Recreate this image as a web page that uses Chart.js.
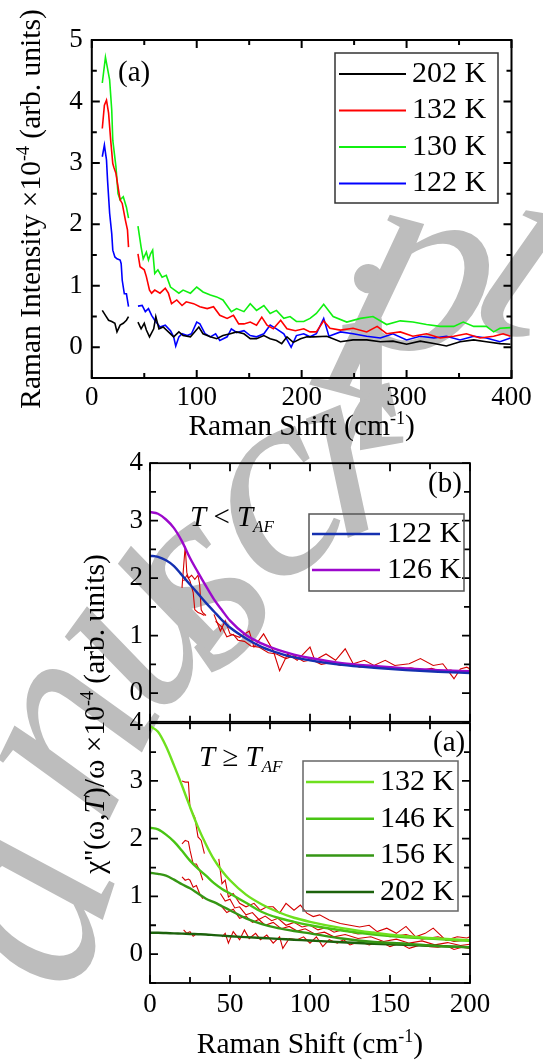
<!DOCTYPE html>
<html>
<head>
<meta charset="utf-8">
<script src="https://cdn.jsdelivr.net/npm/chart.js@4.4.1/dist/chart.umd.min.js"></script>
<style>
  body { margin: 0; background: #fff; }
  #page { position: relative; width: 543px; height: 1063px; overflow: hidden; background: #fff; }
  #page canvas { position: absolute; left: 0; }
</style>
</head>
<body>
<div id="page">
  <canvas id="wm" width="543" height="1063" style="top:0"></canvas>
  <canvas id="top" width="543" height="450" style="top:0"></canvas>
  <canvas id="mid" width="543" height="623" style="top:440px"></canvas>
  <canvas id="bot" width="543" height="363" style="top:700px"></canvas>
</div>
<script>
// ---- panel (a), top: raw spectra, null = gap in the spectrum ----
const x202 = [10,13,16,19,22,24,27,30,33,35,40,44,47,50,52,55,59,61,64,68,73,78,83,87,94,98,102,106,113,119,125,132,138,145,151,157,164,170,176,181,186,192,199,205,211,224,237,249,262,275,287,300,313,326,338,351,364,376,389,399];
const y202 = [0.60,0.52,0.44,0.42,0.39,0.25,0.36,0.39,0.44,0.50,null,0.41,0.30,0.39,0.28,0.17,0.30,0.50,0.30,0.33,0.25,0.17,0.25,0.19,0.17,0.25,0.33,0.22,0.17,0.14,0.19,0.22,0.25,0.22,0.14,0.14,0.19,0.14,0.11,0.06,0.17,0.08,0.14,0.17,0.17,0.18,0.09,0.12,0.12,0.09,0.10,0.05,0.10,0.06,0.02,0.09,0.12,0.09,0.06,0.05];
const x132 = [10,12,14,16,18,20,21,23,25,27,29,32,34,35,40,44,46,50,52,55,57,60,65,70,73,76,81,86,90,97,103,110,116,122,129,135,140,145,151,157,162,167,173,180,186,194,202,208,214,221,227,237,249,262,272,281,294,306,319,332,345,357,370,383,392,399];
const y132 = [3.56,3.94,4.02,3.81,3.37,2.99,2.93,2.83,2.61,2.40,2.34,2.07,1.91,1.63,null,1.52,1.31,1.26,1.15,0.93,0.88,0.93,0.88,0.96,0.88,0.71,0.77,0.68,0.74,0.71,0.66,0.63,0.66,0.52,0.47,0.52,0.38,0.38,0.41,0.36,0.49,0.36,0.30,0.44,0.30,0.27,0.30,0.25,0.25,0.43,0.31,0.28,0.31,0.25,0.34,0.22,0.25,0.18,0.22,0.15,0.18,0.22,0.15,0.18,0.22,0.18];
const x130 = [10,13,17,19,20,23,25,27,30,33,35,40,44,47,49,52,54,56,58,60,63,67,71,75,79,83,87,94,100,106,113,119,125,133,138,145,151,157,164,170,176,183,189,195,202,208,214,221,230,243,256,268,281,294,306,319,332,345,354,364,376,383,389,399];
const y130 = [4.30,4.72,4.35,3.86,3.37,2.94,2.50,2.40,2.45,2.28,2.10,null,1.97,1.63,1.44,1.55,1.42,1.52,1.58,1.20,1.26,1.14,1.17,0.98,0.93,0.88,0.93,0.88,0.98,0.90,0.85,0.82,0.77,0.58,0.63,0.58,0.71,0.60,0.68,0.55,0.60,0.47,0.50,0.42,0.42,0.47,0.55,0.70,0.50,0.41,0.47,0.50,0.37,0.43,0.41,0.37,0.34,0.34,0.41,0.34,0.34,0.25,0.31,0.32];
const x122 = [10,12,14,15,17,19,20,22,24,27,28,29,31,33,35,40,44,48,51,54,57,60,65,70,75,78,80,83,86,91,95,100,103,108,113,118,122,129,133,138,145,151,157,164,170,176,183,190,195,202,208,214,221,226,237,249,262,275,287,300,313,326,338,351,364,376,389,399];
const y122 = [3.10,3.29,3.05,2.72,2.18,1.85,1.58,1.47,1.44,1.42,1.36,1.09,0.87,0.87,0.66,null,0.67,0.68,0.58,0.63,0.52,0.44,0.33,0.36,0.27,0.17,0.02,0.17,0.22,0.19,0.22,0.41,0.38,0.22,0.17,0.22,0.11,0.17,0.30,0.24,0.27,0.19,0.17,0.22,0.36,0.30,0.22,0.00,0.19,0.22,0.17,0.22,0.47,0.18,0.25,0.22,0.18,0.15,0.22,0.12,0.18,0.15,0.18,0.12,0.18,0.15,0.09,0.15];
const topXTicks = [0,100,200,300,400];
const topYTicks = [0,1,2,3,4,5];

// ---- lower panels: fit curves share one x grid ----
const fitX = [0,5,10,15,20,25,30,35,40,45,50,60,70,80,90,100,120,140,160,180,200];
const fit122 = [2.39,2.37,2.31,2.21,2.05,1.89,1.73,1.57,1.42,1.27,1.14,0.95,0.80,0.70,0.62,0.57,0.49,0.44,0.40,0.37,0.35];
const fit126 = [3.15,3.12,3.02,2.87,2.64,2.35,2.10,1.86,1.63,1.44,1.26,1.01,0.86,0.75,0.67,0.61,0.52,0.47,0.43,0.40,0.38];
const fit132 = [3.95,3.85,3.60,3.27,2.92,2.55,2.20,1.90,1.64,1.44,1.28,1.03,0.86,0.73,0.63,0.56,0.45,0.37,0.31,0.27,0.24];
const fit146 = [2.19,2.16,2.07,1.95,1.79,1.62,1.48,1.36,1.23,1.13,1.05,0.89,0.73,0.63,0.56,0.50,0.41,0.34,0.29,0.26,0.23];
const fit156 = [1.41,1.39,1.36,1.29,1.21,1.14,1.05,0.96,0.90,0.83,0.76,0.62,0.52,0.45,0.40,0.36,0.27,0.21,0.18,0.14,0.12];
const fit202 = [0.37,0.37,0.365,0.36,0.355,0.35,0.345,0.34,0.33,0.32,0.31,0.295,0.28,0.265,0.25,0.235,0.205,0.18,0.16,0.14,0.12];

// measured chi''/omega, panel (b)
const midAx = [20,21,22,23,24,26,28,30,31,32,33,35,38,40,44,47,50,56,62,65,71,77,81,86,92,100,103,110,116,122,127,134,140,147,153,162,169,177,183,190,194,198,200];
const midAy = [1.83,2.2,2.55,2.1,2.0,2.05,1.98,2.05,1.9,1.45,1.4,1.35,null,1.37,1.08,1.26,1.03,0.97,1.08,0.80,1.03,0.74,0.39,0.68,0.57,0.80,0.57,0.68,0.57,0.77,0.51,0.57,0.48,0.57,0.48,0.51,0.60,0.48,0.51,0.25,0.42,0.45,0.42];
const midBx = [21,23,25,27,28,30,32,34,38,41,45,48,52,55,59,63,68,74,79,85,90,96,101,107,113,119,125,131,138,144,150,157,163,170,176,182,188,193,197,200];
const midBy = [1.95,2.05,1.95,1.75,1.45,1.40,1.38,1.35,null,1.25,1.15,0.98,1.02,0.92,0.90,0.82,0.80,0.70,0.68,0.60,0.65,0.55,0.58,0.50,0.53,0.48,0.50,0.45,0.47,0.43,0.46,0.42,0.44,0.40,0.43,0.38,0.40,0.36,0.38,0.40];

// measured chi''/omega, lower panel (a)
const r132x = [20,22,24,25,28,30,32,34,38,43,45,47,49,52,56,60,65,69,73,77,81,85,90,94,98,102,106,112,119,125,131,137,142,148,154,160,166,172,177,185,192,198,200];
const r132y = [3.0,2.98,2.98,2.54,2.37,2.03,1.97,1.74,null,1.65,1.22,1.28,0.99,1.05,0.88,0.82,0.88,0.76,0.82,0.82,0.71,0.88,0.76,0.85,0.71,0.65,0.68,0.59,0.53,0.50,0.47,0.50,0.39,0.45,0.36,0.48,0.30,0.36,0.45,0.24,0.30,0.28,0.30];
const r146x = [20,22,24,25,27,29,31,33,38,44,47,50,53,56,60,64,68,72,76,80,85,90,95,100,105,110,115,120,130,140,150,160,170,180,190,200];
const r146y = [1.91,1.97,1.95,1.80,1.56,1.56,1.45,1.28,null,1.05,0.92,0.95,0.80,0.82,0.68,0.72,0.60,0.66,0.58,0.62,0.50,0.55,0.47,0.50,0.42,0.46,0.38,0.42,0.35,0.38,0.30,0.34,0.26,0.30,0.22,0.25];
const r156x = [20,22,24,25,27,29,31,33,38,44,48,52,56,60,64,68,72,77,82,87,92,97,103,109,115,122,130,138,146,154,162,170,178,186,194,200];
const r156y = [1.34,1.28,1.30,1.28,1.16,1.19,1.05,0.96,null,0.85,0.72,0.78,0.62,0.66,0.55,0.60,0.50,0.55,0.44,0.48,0.40,0.44,0.35,0.38,0.30,0.34,0.27,0.30,0.22,0.26,0.19,0.23,0.16,0.20,0.15,0.17];
const r202x = [21,23,25,27,29,31,38,45,47,49,52,56,59,62,66,69,73,77,81,83,87,92,96,100,104,108,112,117,121,125,131,137,144,150,156,162,169,175,180,185,190,195,200];
const r202y = [0.42,0.36,0.39,0.31,0.35,0.34,null,0.30,0.36,0.19,0.39,0.25,0.42,0.27,0.36,0.25,0.33,0.19,0.30,0.10,0.27,0.25,0.30,0.19,0.30,0.13,0.25,0.19,0.25,0.16,0.22,0.16,0.22,0.13,0.19,0.10,0.16,0.13,0.12,0.15,0.08,0.12,0.10];
const lowXTicks = [0,50,100,150,200];
const lowYTicks = [0,1,2,3,4];

const SERIF = '"Liberation Serif", Tinos, "Times New Roman", Times, "DejaVu Serif", serif';
Chart.defaults.font.family = SERIF;
Chart.defaults.color = '#000';

const font = (size, italic) => (italic ? 'italic ' : '') + size + 'px ' + SERIF;
const xy = (xs, ys) => xs.map((v, i) => ({ x: v, y: ys[i] }));

// gray watermark behind everything
const wmLetters = [['a', 30, 910, -72], ['n', 70, 735, -64], ['u', 140, 625, -54], ['s', 200, 590, -45],
  ['c', 275, 500, -34], ['r', 360, 455, -22], ['i', 370, 375, -10], ['p', 425, 280, 15], ['t', 528, 265, 25]];

function drawWatermark() {
  const wm = document.getElementById('wm').getContext('2d');
  wm.clearRect(0, 0, 543, 1063);
  wm.fillStyle = '#bdbdbd';
  wm.font = font(275, true);
  wm.textAlign = 'center';
  wm.textBaseline = 'middle';
  wmLetters.forEach(([ch, x, y, r]) => {
    wm.save(); wm.translate(x, y); wm.rotate(r * Math.PI / 180); wm.fillText(ch, 0, 0); wm.restore();
  });
}

function richText(ctx, t) {
  const parts = t.segs.map(s => {
    const small = s.sup || s.sub;
    const f = font(small ? Math.round(t.size * 0.6) : t.size, s.it);
    ctx.font = f;
    return { text: s.t, f, w: ctx.measureText(s.t).width, dy: s.sup ? -t.size * 0.27 : s.sub ? t.size * 0.33 : 0 };
  });
  const total = parts.reduce((a, p) => a + p.w, 0);
  ctx.save();
  ctx.translate(t.x, t.y);
  if (t.rot) ctx.rotate(t.rot * Math.PI / 180);
  ctx.fillStyle = '#000';
  ctx.textBaseline = 'middle';
  let cx = t.align === 'left' ? 0 : -total / 2;
  parts.forEach(p => { ctx.font = p.f; ctx.fillText(p.text, cx, p.dy); cx += p.w; });
  ctx.restore();
}

// closed frame with inward major/minor ticks on all four sides
function frameTicks(o) {
  const marks = scale => {
    const v = scale.ticks.map(t => t.value);
    const step = v[1] - v[0];
    const out = v.map(a => [a, o.major]);
    for (let a = v[0] - step / 2; a <= scale.max; a += step) if (a >= scale.min) out.push([a, o.minor]);
    return out;
  };
  return {
    id: 'frameTicks',
    afterDatasetsDraw(chart) {
      const { ctx, chartArea: a, scales: { x, y } } = chart;
      ctx.save();
      ctx.strokeStyle = o.color;
      ctx.lineWidth = o.width;
      ctx.beginPath();
      marks(x).forEach(([v, len]) => {
        const px = x.getPixelForValue(v);
        ctx.moveTo(px, a.bottom); ctx.lineTo(px, a.bottom - len);
        ctx.moveTo(px, a.top); ctx.lineTo(px, a.top + len);
      });
      marks(y).forEach(([v, len]) => {
        const py = y.getPixelForValue(v);
        ctx.moveTo(a.left, py); ctx.lineTo(a.left + len, py);
        ctx.moveTo(a.right, py); ctx.lineTo(a.right - len, py);
      });
      ctx.stroke();
      ctx.strokeRect(a.left, a.top, a.right - a.left, a.bottom - a.top);
      ctx.restore();
    }
  };
}

function legendBox(o) {
  return {
    id: 'legendBox',
    afterDatasetsDraw(chart) {
      const ctx = chart.ctx;
      const items = chart.data.datasets.filter(d => d.inLegend);
      ctx.save();
      ctx.strokeStyle = o.border;
      ctx.lineWidth = 1.5;
      ctx.strokeRect(o.x, o.y, o.w, o.h);
      ctx.font = font(o.size);
      ctx.textBaseline = 'middle';
      ctx.fillStyle = '#000';
      items.forEach((d, i) => {
        const ry = o.row0 + i * o.step;
        ctx.strokeStyle = d.borderColor;
        ctx.lineWidth = o.lw;
        ctx.beginPath(); ctx.moveTo(o.lineX, ry); ctx.lineTo(o.lineX + o.lineLen, ry); ctx.stroke();
        ctx.fillText(d.label, o.textX, ry);
      });
      ctx.restore();
    }
  };
}

function labels(items) {
  return { id: 'labels', afterDraw(chart) { items.forEach(t => richText(chart.ctx, t)); } };
}

function scales(o) {
  const tickFont = { size: 27, family: SERIF };
  return {
    x: {
      type: 'linear', min: o.xr[0], max: o.xr[1],
      afterBuildTicks: s => { s.ticks = o.xTicks.map(v => ({ value: v })); },
      afterFit: s => { s.height = o.xH; },
      grid: { display: false, drawTicks: false }, border: { display: false },
      ticks: { display: o.xLabels, font: tickFont, color: '#000', padding: o.xPad, maxRotation: 0, autoSkip: false }
    },
    y: {
      type: 'linear', min: o.yr[0], max: o.yr[1],
      afterBuildTicks: s => { s.ticks = o.yTicks.map(v => ({ value: v })); },
      afterFit: s => { s.width = o.yW; },
      grid: { display: false, drawTicks: false }, border: { display: false },
      ticks: { font: tickFont, color: '#000', padding: o.yPad, autoSkip: false }
    }
  };
}

const common = {
  responsive: false, animation: false, events: [],
  plugins: { legend: { display: false }, tooltip: { enabled: false } },
  elements: { point: { radius: 0 } }
};

const line = (label, xs, ys, color, width, legend, smooth) => ({
  label, data: xy(xs, ys), borderColor: color, backgroundColor: color, borderWidth: width,
  fill: false, spanGaps: false, inLegend: legend, cubicInterpolationMode: smooth ? 'monotone' : 'default'
});

let charts = [];

function render() {
  charts.forEach(c => c.destroy());
  charts = [];
  drawWatermark();

  // ---- top chart ----
  charts.push(new Chart(document.getElementById('top'), {
    type: 'line',
    data: {
      datasets: [
        line('202 K', x202, y202, '#000000', 1.6, true),
        line('132 K', x132, y132, '#ff0000', 1.6, true),
        line('130 K', x130, y130, '#10f010', 1.6, true),
        line('122 K', x122, y122, '#0000ff', 1.6, true)
      ]
    },
    options: Object.assign({}, common, {
      layout: { padding: { top: 40, right: 31.5, left: 0, bottom: 0 } },
      scales: scales({ xr: [0, 400], yr: [-0.5, 5], xTicks: topXTicks, yTicks: topYTicks, xH: 72, yW: 91.8, xPad: 4, yPad: 9, xLabels: true })
    }),
    plugins: [
      frameTicks({ color: '#000', width: 2, major: 8, minor: 5 }),
      legendBox({ x: 335, y: 53, w: 163, h: 150, row0: 74, step: 36.5, lineX: 339, lineLen: 67, textX: 412, size: 30, lw: 2, border: '#333' }),
      labels([
        { x: 118, y: 73, size: 29, align: 'left', segs: [{ t: '(a)' }] },
        { x: 301.6, y: 427, size: 29.5, segs: [{ t: 'Raman Shift (cm' }, { t: '-1', sup: true }, { t: ')' }] },
        { x: 32, y: 209, size: 29.5, rot: -90, segs: [{ t: 'Raman Intensity ×10' }, { t: '-4', sup: true }, { t: ' (arb. units)' }] }
      ])
    ]
  }));

  // ---- middle chart, panel (b) ----
  charts.push(new Chart(document.getElementById('mid'), {
    type: 'line',
    data: {
      datasets: [
        line('122 K', fitX, fit122, '#1530b0', 2.4, true, true),
        line('126 K', fitX, fit126, '#9c08cc', 2.4, true, true),
        line('', midAx, midAy, '#d40000', 1.1, false),
        line('', midBx, midBy, '#d40000', 1.1, false)
      ]
    },
    options: Object.assign({}, common, {
      layout: { padding: { top: 21, right: 73, left: 0, bottom: 341.2 } },
      scales: scales({ xr: [0, 200], yr: [-0.5, 4], xTicks: lowXTicks, yTicks: lowYTicks, xH: 0, yW: 150, xPad: 4, yPad: 7, xLabels: false })
    }),
    plugins: [
      frameTicks({ color: '#000', width: 1.8, major: 8, minor: 6 }),
      legendBox({ x: 309, y: 74, w: 155, h: 77, row0: 94, step: 36, lineX: 312, lineLen: 68, textX: 387, size: 30, lw: 2.5, border: '#555' }),
      labels([
        { x: 428, y: 44, size: 29, align: 'left', segs: [{ t: '(b)' }] },
        { x: 190, y: 78, size: 29, align: 'left', segs: [{ t: 'T', it: true }, { t: ' < ' }, { t: 'T', it: true }, { t: 'AF', it: true, sub: true }] },
        { x: 96, y: 274, size: 29.5, rot: -90, segs: [{ t: 'χ\'\'(ω,' }, { t: 'T', it: true }, { t: ')/ω ×10' }, { t: '-4', sup: true }, { t: ' (arb. units)' }] }
      ])
    ]
  }));

  // ---- bottom chart, panel (a) ----
  charts.push(new Chart(document.getElementById('bot'), {
    type: 'line',
    data: {
      datasets: [
        line('132 K', fitX, fit132, '#6ee01e', 2.4, true, true),
        line('146 K', fitX, fit146, '#48c414', 2.4, true, true),
        line('156 K', fitX, fit156, '#359614', 2.4, true, true),
        line('202 K', fitX, fit202, '#1c620c', 2.4, true, true),
        line('', r132x, r132y, '#d40000', 1.1, false),
        line('', r146x, r146y, '#d40000', 1.1, false),
        line('', r156x, r156y, '#d40000', 1.1, false),
        line('', r202x, r202y, '#d40000', 1.1, false)
      ]
    },
    options: Object.assign({}, common, {
      layout: { padding: { top: 21.8, right: 73, left: 0, bottom: 0 } },
      scales: scales({ xr: [0, 200], yr: [-0.5, 4], xTicks: lowXTicks, yTicks: lowYTicks, xH: 80, yW: 150, xPad: 6, yPad: 7, xLabels: true })
    }),
    plugins: [
      frameTicks({ color: '#000', width: 1.8, major: 8, minor: 6 }),
      legendBox({ x: 303, y: 61, w: 155, h: 150, row0: 82, step: 36.7, lineX: 306, lineLen: 68, textX: 380, size: 30, lw: 2.5, border: '#666' }),
      labels([
        { x: 433, y: 43, size: 29, align: 'left', segs: [{ t: '(a)' }] },
        { x: 199, y: 58, size: 29, align: 'left', segs: [{ t: 'T', it: true }, { t: ' ≥ ' }, { t: 'T', it: true }, { t: 'AF', it: true, sub: true }] },
        { x: 310, y: 345, size: 29.5, segs: [{ t: 'Raman Shift (cm' }, { t: '-1', sup: true }, { t: ')' }] }
      ])
    ]
  }));
}

render();
// redraw once the serif faces are ready, in case they load lazily
Promise.all([
  document.fonts.load('27px "Liberation Serif"'),
  document.fonts.load('italic 27px "Liberation Serif"')
]).then(render, render);
</script>
</body>
</html>
